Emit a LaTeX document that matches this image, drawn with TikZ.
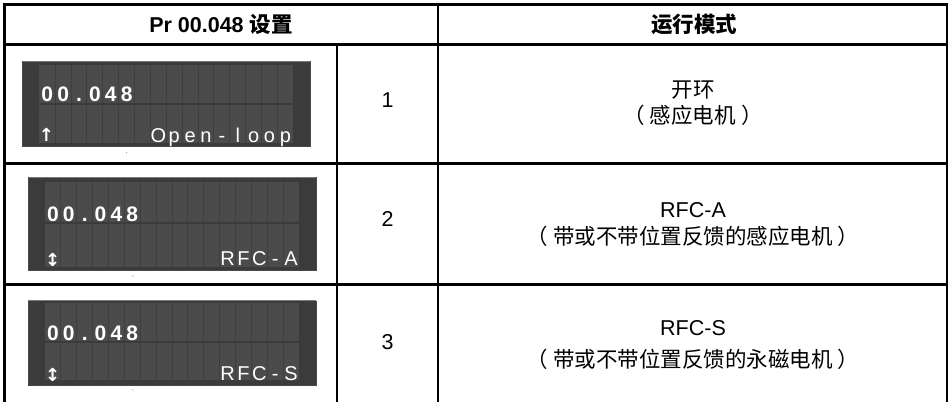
\documentclass[tikz,border=0pt]{standalone}
\usepackage{fontspec}
\setmainfont{Liberation Sans}
\newfontfamily\cjk{Noto Sans CJK SC}
\newfontfamily\arrowfont{DejaVu Sans}
\newcommand\lp{{\cjk （}\hspace{5pt}}
\newcommand\rp{\hspace{5pt}{\cjk ）}}
\definecolor{lcdouter}{HTML}{3B3B3B}
\definecolor{lcdcell}{HTML}{4B4B4B}
\definecolor{lcdsep}{HTML}{3F3F3F}
\definecolor{lcdedge}{HTML}{7A7A7A}
\definecolor{dotgray}{HTML}{9A9A9A}
\newcommand\drawlcd[8]{%
  % #1,#2 frame top-left; #3,#4 frame bottom-right; #5 cell x0; #6 row1 top; #7 row split; #8 row2 bottom
  \fill[lcdouter] (#1,#2) rectangle (#3,#4);
  \draw[lcdedge,line width=0.8pt] (#1,#2) -- (#3,#2);
  \draw[lcdedge!60!black,line width=0.6pt] (#1,#4) -- (#3,#4) (#1,#2) -- (#1,#4) (#3,#2) -- (#3,#4);
  \fill[lcdcell] (#5,#6) rectangle ({#5+16*15.875},{#7-1.2});
  \fill[lcdcell] (#5,{#7+1.2}) rectangle ({#5+16*15.875},#8);
  \foreach \k in {1,...,15} {
    \draw[lcdsep,line width=0.9pt] ({#5+\k*15.875},#6) -- ({#5+\k*15.875},{#7-1.2});
    \draw[lcdsep,line width=0.9pt] ({#5+\k*15.875},{#7+1.2}) -- ({#5+\k*15.875},#8);
  }
}
\begin{document}
\begin{tikzpicture}[x=1pt,y=-1pt,
  tline/.style={line width=3pt,black},
  cline/.style={line width=2.6pt,black},
  hdr/.style={font=\fontsize{21.5}{24}\selectfont\bfseries,inner sep=0pt,anchor=center},
  body/.style={font=\fontsize{21.5}{24}\selectfont,inner sep=0pt,anchor=center},
  lcddigit/.style={text=white,font=\fontsize{21}{21}\selectfont\bfseries,inner sep=0pt,anchor=base},
  lcdchar/.style={text=white,font=\fontsize{20}{20}\selectfont,inner sep=0pt,anchor=base},
  lcdarrow/.style={text=white,font=\arrowfont\bfseries\fontsize{18}{18}\selectfont,inner sep=0pt,anchor=center},
  tinydot/.style={fill=dotgray,draw=none}]
\useasboundingbox (0,0) rectangle (950,402);
\fill[white] (0,0) rectangle (950,402);

% ---- table rules ----
\draw[tline] (2.8,4.3) -- (948,4.3);
\draw[tline] (4.3,2.8) -- (4.3,402);
\draw[line width=2.2pt] (947,3) -- (947,402);
\draw[tline] (2.8,44.3) -- (948,44.3);
\draw[tline] (2.8,163.3) -- (948,163.3);
\draw[tline] (2.8,284.3) -- (948,284.3);
\draw[cline] (337,44.3) -- (337,402);
\draw[cline] (438,3) -- (438,402);

% ---- header ----
\node[hdr] (h1) at (221,24) {Pr 00.048 {\cjk 设置}};
\node[hdr] (h2) at (694,24) {\cjk 运行模式};

% ---- LCD 1 ----
\drawlcd{22.3}{61}{310.7}{146.7}{39.3}{65}{103.9}{142.7}
\foreach \c [count=\i from 0] in {0,0,.,0,4,8}
  \node[lcddigit] (aa\i) at ({39.3+(\i+0.5)*15.875},101.7) {\c};
\foreach \c [count=\i from 7] in {O,p,e,n,-,l,o,o,p}
  \node[lcdchar] (ab\i) at ({39.3+(\i+0.5)*15.875},142.3) {\c};
\node[lcdarrow] (ar1) at (46.5,134.5) {↑};
\fill[tinydot] (126.5,152.7) circle (0.6);

% ---- LCD 2 ----
\drawlcd{28.3}{177.3}{316}{270.7}{45}{181.7}{223}{267}
\foreach \c [count=\i from 0] in {0,0,.,0,4,8}
  \node[lcddigit] (ba\i) at ({45+(\i+0.5)*15.875},221.7) {\c};
\foreach \c [count=\i from 11] in {R,F,C,-,A}
  \node[lcdchar] (bb\i) at ({45+(\i+0.5)*15.875},265) {\c};
\node[lcdarrow] (ar2) at (52.7,260) {↕};
\fill[tinydot] (132.7,276) circle (0.6);

% ---- LCD 3 ----
\drawlcd{28.3}{300.7}{316}{385.7}{45}{303.3}{341.8}{380}
\foreach \c [count=\i from 0] in {0,0,.,0,4,8}
  \node[lcddigit] (ca\i) at ({45+(\i+0.5)*15.875},340.7) {\c};
\foreach \c [count=\i from 11] in {R,F,C,-,S}
  \node[lcdchar] (cb\i) at ({45+(\i+0.5)*15.875},380.5) {\c};
\node[lcdarrow] (ar3) at (52.7,375) {↕};
\fill[tinydot] (132.7,390) circle (0.6);

% ---- numbers ----
\node[body] (n1) at (387.5,100) {1};
\node[body] (n2) at (387.5,219) {2};
\node[body] (n3) at (387.5,342) {3};

% ---- modes ----
\node[body] (m1a) at (693,90) {\cjk 开环};
\node[body] (m1b) at (693,115) {\cjk \lp 感应电机\rp};
\node[body] (m2a) at (693,210) {RFC-A};
\node[body] (m2b) at (693,236) {\cjk \lp 带或不带位置反馈的感应电机\rp};
\node[body] (m3a) at (693,328) {RFC-S};
\node[body] (m3b) at (693,359) {\cjk \lp 带或不带位置反馈的永磁电机\rp};
\end{tikzpicture}
\end{document}
